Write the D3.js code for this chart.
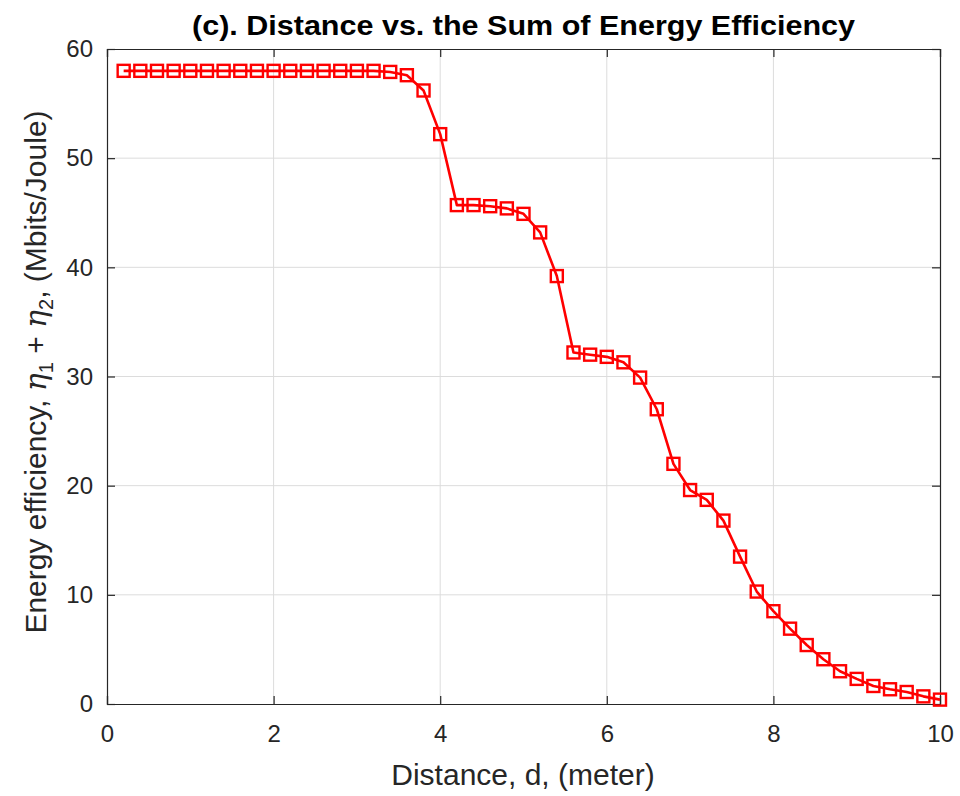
<!DOCTYPE html>
<html><head><meta charset="utf-8">
<script src="https://cdn.jsdelivr.net/npm/d3@7"></script>
<style>body{margin:0;background:#fff}svg{display:block}text{font-family:"Liberation Sans",Arial,sans-serif}</style>
</head><body>
<script>
const distance = [0.2,0.4,0.6,0.8,1.0,1.2,1.4,1.6,1.8,2.0,2.2,2.4,2.6,2.8,3.0,3.2,3.4,3.6,3.8,4.0,4.2,4.4,4.6,4.8,5.0,5.2,5.4,5.6,5.8,6.0,6.2,6.4,6.6,6.8,7.0,7.2,7.4,7.6,7.8,8.0,8.2,8.4,8.6,8.8,9.0,9.2,9.4,9.6,9.8,10.0];
const efficiency = [58.0,58.0,58.0,58.0,58.0,58.0,58.0,58.0,58.0,58.0,58.0,58.0,58.0,58.0,58.0,58.0,57.9,57.6,56.2,52.2,45.7,45.7,45.6,45.4,44.9,43.2,39.2,32.2,32.0,31.8,31.3,29.9,27.0,22.0,19.6,18.7,16.8,13.5,10.3,8.5,6.9,5.4,4.1,3.0,2.3,1.65,1.35,1.1,0.7,0.4];
const xTicks = [0,2,4,6,8,10];
const yTicks = [0,10,20,30,40,50,60];
const titleText = "(c). Distance vs. the Sum of Energy Efficiency";
const xLabel = "Distance, d, (meter)";

const W = 960, H = 796;
const L = 107, R = 940, T = 49, B = 704;
const svg = d3.select("body").append("svg").attr("width", W).attr("height", H);
const x = d3.scaleLinear().domain([0,10]).range([L,R]);
const y = d3.scaleLinear().domain([0,60]).range([B,T]);
const axisCol = "#262626";

// grid
svg.append("g").selectAll("line").data(xTicks.slice(1,-1)).join("line")
  .attr("x1",d=>x(d)).attr("x2",d=>x(d)).attr("y1",T).attr("y2",B)
  .attr("stroke","#dcdcdc").attr("stroke-width",1);
svg.append("g").selectAll("line").data(yTicks.slice(1,-1)).join("line")
  .attr("y1",d=>y(d)).attr("y2",d=>y(d)).attr("x1",L).attr("x2",R)
  .attr("stroke","#dcdcdc").attr("stroke-width",1);

// axes
const tk = 8;
const fmt = d3.format("d");
const gB = svg.append("g").attr("transform",`translate(0,${B})`)
  .call(d3.axisBottom(x).tickValues(xTicks).tickSize(-tk).tickPadding(21).tickFormat(fmt));
const gT = svg.append("g").attr("transform",`translate(0,${T})`)
  .call(d3.axisTop(x).tickValues(xTicks).tickSize(-tk).tickFormat(""));
const gL = svg.append("g").attr("transform",`translate(${L},0)`)
  .call(d3.axisLeft(y).tickValues(yTicks).tickSize(-tk).tickPadding(14).tickFormat(fmt));
const gR = svg.append("g").attr("transform",`translate(${R},0)`)
  .call(d3.axisRight(y).tickValues(yTicks).tickSize(-tk).tickFormat(""));
[gB,gT,gL,gR].forEach(g=>{
  g.select(".domain").attr("stroke",axisCol).attr("stroke-width",1.2);
  g.selectAll(".tick line").attr("stroke",axisCol).attr("stroke-width",1.2);
  g.selectAll(".tick text").attr("fill",axisCol).style("font-size","24px");
});

// line
const line = d3.line().x((d,i)=>x(distance[i])).y(d=>y(d));
svg.append("path").datum(efficiency).attr("d",line)
  .attr("fill","none").attr("stroke","#ff0000").attr("stroke-width",2.6).attr("stroke-linejoin","round");
const ms = 12;
svg.append("g").selectAll("rect").data(efficiency).join("rect")
  .attr("x",(d,i)=>x(distance[i])-ms/2).attr("y",d=>y(d)-ms/2)
  .attr("width",ms).attr("height",ms)
  .attr("fill","none").attr("stroke","#ff0000").attr("stroke-width",2.4);

// title
svg.append("text").attr("x",523.5).attr("y",35).attr("text-anchor","middle")
  .attr("textLength",663).attr("lengthAdjust","spacingAndGlyphs")
  .attr("fill","#000").style("font-size","28px").style("font-weight","bold").text(titleText);

// x label
svg.append("text").attr("x",523).attr("y",785).attr("text-anchor","middle")
  .attr("fill",axisCol).style("font-size","30px").text(xLabel);

// y label
const yl = svg.append("text").attr("transform",`translate(46,372) rotate(-90)`)
  .attr("text-anchor","middle").attr("fill",axisCol).style("font-size","30px");
yl.append("tspan").text("Energy efficiency, ");
yl.append("tspan").style("font-family","'DejaVu Serif',serif").style("font-style","italic").text("η");
yl.append("tspan").attr("dy",7).style("font-size","20px").text("1");
yl.append("tspan").attr("dy",-7).text(" + ");
yl.append("tspan").style("font-family","'DejaVu Serif',serif").style("font-style","italic").text("η");
yl.append("tspan").attr("dy",7).style("font-size","20px").text("2");
yl.append("tspan").attr("dy",-7).text(", (Mbits/Joule)");
</script>
</body></html>
